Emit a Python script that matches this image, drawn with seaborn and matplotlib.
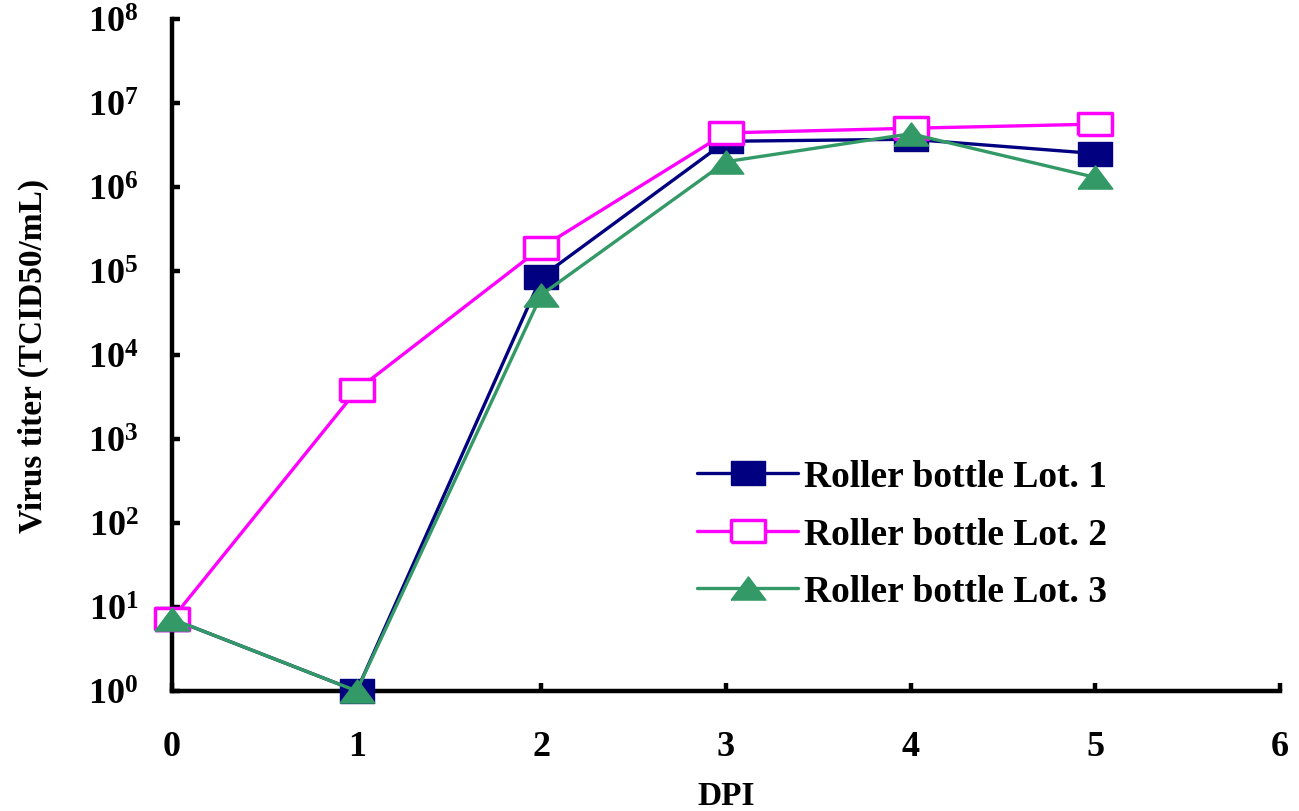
import numpy as np
import pandas as pd
import matplotlib
matplotlib.use("Agg")
import matplotlib.pyplot as plt
import matplotlib.ticker as mticker
import seaborn as sns

days = [0, 1, 2, 3, 4, 5]
lot1 = [7.2, 1.0, 8.5e4, 3.5e6, 3.7e6, 2.5e6]
lot2 = [7.2, 3.8e3, 1.9e5, 4.4e6, 5.0e6, 5.6e6]
lot3 = [7.2, 1.0, 5.2e4, 2.0e6, 4.3e6, 1.3e6]
labels = ["Roller bottle Lot. 1", "Roller bottle Lot. 2", "Roller bottle Lot. 3"]
colors = ["#000080", "#FF00FF", "#339966"]

sns.set_style("white")
plt.rcParams["font.family"] = ["Liberation Serif", "DejaVu Serif"]
plt.rcParams["font.weight"] = "bold"
plt.rcParams["text.color"] = "black"
plt.rcParams["axes.labelcolor"] = "black"
plt.rcParams["mathtext.fontset"] = "custom"
plt.rcParams["mathtext.rm"] = "Liberation Serif:bold"
plt.rcParams["mathtext.bf"] = "Liberation Serif:bold"
plt.rcParams["mathtext.it"] = "Liberation Serif:bold"

rect = [(-1.5, -1), (1.5, -1), (1.5, 1), (-1.5, 1), (-1.5, -1)]
tri = [(-1.5, -1), (1.5, -1), (0, 1), (-1.5, -1)]

fig = plt.figure(figsize=(12.99, 8.12), dpi=100)
ax = fig.add_axes([0.1324, 0.1478, 0.8530, 0.8276])

df1 = pd.DataFrame({"day": days, "titer": lot1})
df2 = pd.DataFrame({"day": days, "titer": lot2})
df3 = pd.DataFrame({"day": days, "titer": lot3})

sns.lineplot(data=df1, x="day", y="titer", ax=ax, color=colors[0], lw=2.4,
             marker=rect, markersize=25, markerfacecolor=colors[0],
             markeredgecolor=colors[0], markeredgewidth=1, label=labels[0],
             clip_on=False, zorder=3)
sns.lineplot(data=df2, x="day", y="titer", ax=ax, color=colors[1], lw=2.4,
             marker=rect, markersize=24, markerfacecolor="white",
             markeredgecolor=colors[1], markeredgewidth=2.5, label=labels[1],
             clip_on=False, zorder=4)
sns.lineplot(data=df3, x="day", y="titer", ax=ax, color=colors[2], lw=2.4,
             marker=tri, markersize=25, markerfacecolor=colors[2],
             markeredgecolor=colors[2], markeredgewidth=1, label=labels[2],
             clip_on=False, zorder=5)

ax.set_yscale("log")
ax.set_ylim(1, 1e8)
ax.set_xlim(0, 6)
ax.set_xticks(range(0, 7))
ax.yaxis.set_major_locator(mticker.LogLocator(base=10, numticks=20))
ax.yaxis.set_minor_locator(mticker.NullLocator())
ax.yaxis.set_major_formatter(mticker.FuncFormatter(
    lambda v, p: r"$\mathbf{10^{%d}}$" % int(round(np.log10(v)))))

for s in ["top", "right"]:
    ax.spines[s].set_visible(False)
for s in ["left", "bottom"]:
    ax.spines[s].set_linewidth(3.2)
    ax.spines[s].set_color("black")

ax.tick_params(axis="both", which="major", direction="in", length=6, width=3.2,
               colors="black", labelsize=26, left=True, bottom=True)
ax.tick_params(axis="y", pad=24)
ax.tick_params(axis="x", pad=28)
for t in ax.get_xticklabels() + ax.get_yticklabels():
    t.set_fontweight("bold")

ax.set_xlabel("DPI", fontsize=24, fontweight="bold", labelpad=12)
ax.set_ylabel("Virus titer (TCID50/mL)", fontsize=24, fontweight="bold", labelpad=28)

leg = ax.legend(loc="upper left", bbox_to_anchor=(0.474, 0.345), frameon=False,
                handlelength=2.7, handletextpad=0.15, labelspacing=0.6,
                borderpad=0, borderaxespad=0, prop={"weight": "bold", "size": 27})
for t in leg.get_texts():
    t.set_color("black")

fig.savefig("out.png", dpi=100)
